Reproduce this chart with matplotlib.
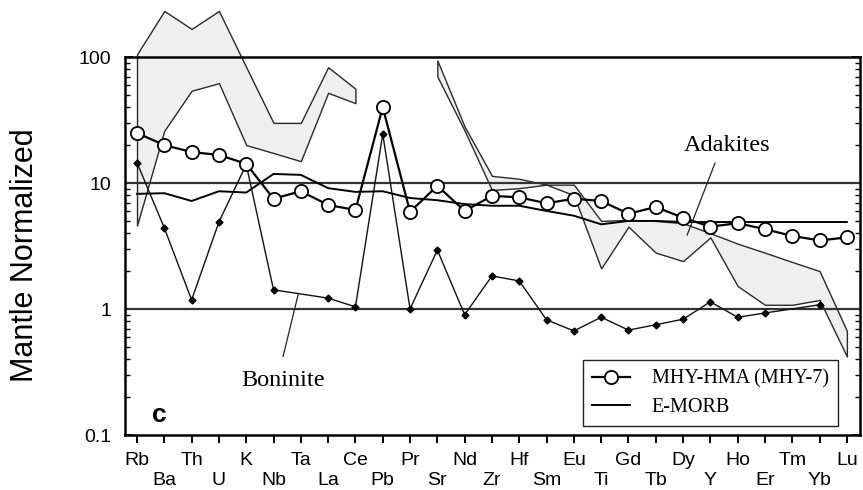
import numpy as np
import matplotlib
matplotlib.use('Agg')
import matplotlib.pyplot as plt
from matplotlib.lines import Line2D

# element order on the spider diagram
elements = ['Rb', 'Ba', 'Th', 'U', 'K', 'Nb', 'Ta', 'La', 'Ce', 'Pb', 'Pr', 'Sr', 'Nd', 'Zr',
            'Hf', 'Sm', 'Eu', 'Ti', 'Gd', 'Tb', 'Dy', 'Y', 'Ho', 'Er', 'Tm', 'Yb', 'Lu']

# MHY-HMA (MHY-7)
mhy7 = [24.9, 20, 17.6, 16.7, 14.2, 7.5, 8.6, 6.7, 6.1, 40, 5.9, 9.5, 6.0, 7.9,
        7.7, 6.9, 7.5, 7.2, 5.7, 6.45, 5.3, 4.5, 4.8, 4.3, 3.8, 3.5, 3.7]
# E-MORB
emorb = [8.2, 8.3, 7.2, 8.6, 8.4, 11.8, 11.6, 9.1, 8.5, 8.6, 7.6, 7.3, 6.8, 6.6,
         6.6, 6.0, 5.5, 4.7, 5.0, 5.0, 4.9, 4.9, 4.9, 4.9, 4.9, 4.9, 4.9]
# Boninite (no Ta, Tm, Lu)
bon_el = ['Rb', 'Ba', 'Th', 'U', 'K', 'Nb', 'La', 'Ce', 'Pb', 'Pr', 'Sr', 'Nd', 'Zr',
          'Hf', 'Sm', 'Eu', 'Ti', 'Gd', 'Tb', 'Dy', 'Y', 'Ho', 'Er', 'Yb']
bon = [14.5, 4.4, 1.18, 4.9, 14, 1.42, 1.22, 1.04, 24.5, 1.0, 2.94, 0.90, 1.83,
       1.67, 0.82, 0.67, 0.86, 0.68, 0.75, 0.83, 1.14, 0.86, 0.93, 1.08]
# Adakites field, two pieces
adak1_el = ['Rb', 'Ba', 'Th', 'U', 'K', 'Nb', 'Ta', 'La', 'Ce']
adak1_hi = [105, 232, 167, 232, 83, 30, 30, 83, 56]
adak1_lo = [4.6, 26, 54, 62, 20, 17.3, 14.9, 52, 43]
adak2_el = ['Sr', 'Nd', 'Zr', 'Hf', 'Sm', 'Eu', 'Ti', 'Gd', 'Tb', 'Dy', 'Y', 'Ho',
            'Er', 'Tm', 'Yb', 'Lu']
adak2_hi = [94, 28, 11.4, 10.8, 9.7, 9.7, 5.0, 5.1, 5.0, 4.8, 4.0, 3.3, 2.8, 2.36, 2.0, 0.67]
adak2_lo = [70, 26, 8.8, 9.1, 9.7, 8.0, 2.1, 4.5, 2.8, 2.4, 3.7, 1.52, 1.08, 1.08, 1.18, 0.42]

pos = {e: i for i, e in enumerate(elements)}
x = np.arange(len(elements))

plt.rcParams['font.family'] = ['Liberation Sans', 'DejaVu Sans']
fig = plt.figure(figsize=(8.63, 4.9), dpi=100)
ax = fig.add_axes([125/863, 1-435/490, 735/863, 378/490])
ax.set_yscale('log')
ax.set_ylim(0.1, 100)
ax.set_xlim(-0.44, 26.48)

for el, hi, lo in [(adak1_el, adak1_hi, adak1_lo), (adak2_el, adak2_hi, adak2_lo)]:
    xx = [pos[e] for e in el]
    ax.fill_between(xx, lo, hi, facecolor='#efefef', edgecolor='#2a2a2a',
                    linewidth=1.0, clip_on=False, zorder=1)

for yv in [1, 10]:
    ax.axhline(yv, color='#333333', lw=1.6, zorder=2)

ax.plot(x, emorb, color='black', lw=1.4, zorder=3)
ax.plot([pos[e] for e in bon_el], bon, color='#111111', lw=1.0, marker='D',
        ms=3.5, mfc='black', mec='black', zorder=4)
ax.plot(x, mhy7, color='black', lw=1.6, marker='o', ms=9.5, mfc='white',
        mec='black', mew=1.3, zorder=5)

# labels with pointer lines
serif = ['Liberation Serif', 'DejaVu Serif']
ax.text(21.6, 19.7, 'Adakites', family=serif, fontsize=17.5, ha='center', va='center')
ax.plot([21.17, 20.15], [14.4, 3.87], color='#222222', lw=0.9, zorder=6)
ax.text(5.35, 0.273, 'Boninite', family=serif, fontsize=17.5, ha='center', va='center')
ax.plot([5.35, 5.9], [0.42, 1.3], color='#222222', lw=0.9, zorder=6)
ax.text(0.037, 0.053, 'c', transform=ax.transAxes, fontsize=19, fontweight='bold',
        ha='left', va='center')

# axes styling
for s in ax.spines.values():
    s.set_linewidth(1.8)
ax.set_yticks([0.1, 1, 10, 100])
ax.set_yticklabels(['0.1', '1', '10', '100'], fontsize=14)
ax.tick_params(axis='y', which='major', direction='in', length=6, width=1.2,
               right=True, pad=10)
ax.tick_params(axis='y', which='minor', direction='in', length=3.5, width=1.0,
               right=True)
ax.yaxis.set_minor_formatter(plt.NullFormatter())

ax.set_xticks(x[::2])
ax.set_xticklabels(elements[::2], fontsize=14)
ax.set_xticks(x[1::2], minor=True)
ax.set_xticklabels(elements[1::2], minor=True, fontsize=14)
ax.tick_params(axis='x', which='both', direction='out', length=6, width=1.4)
ax.tick_params(axis='x', which='major', pad=6.5)
ax.tick_params(axis='x', which='minor', pad=20.5)

fig.text(25/863, 1-255/490, 'Mantle Normalized', rotation=90, fontsize=22,
         ha='center', va='center')

handles = [Line2D([], [], color='black', lw=1.6, marker='o', ms=9.5, mfc='white',
                  mec='black', mew=1.3),
           Line2D([], [], color='black', lw=1.4)]
leg = ax.legend(handles, ['MHY-HMA (MHY-7)', 'E-MORB'], loc='lower right',
                bbox_to_anchor=(0.970, 0.024), prop={'family': serif, 'size': 14.5},
                fancybox=False, edgecolor='#222222', framealpha=1, borderpad=0.45,
                handlelength=1.85, handletextpad=1.1, labelspacing=0.45,
                borderaxespad=0)
leg.get_frame().set_linewidth(1.0)
leg.set_zorder(10)

fig.savefig('out.png', dpi=100)
